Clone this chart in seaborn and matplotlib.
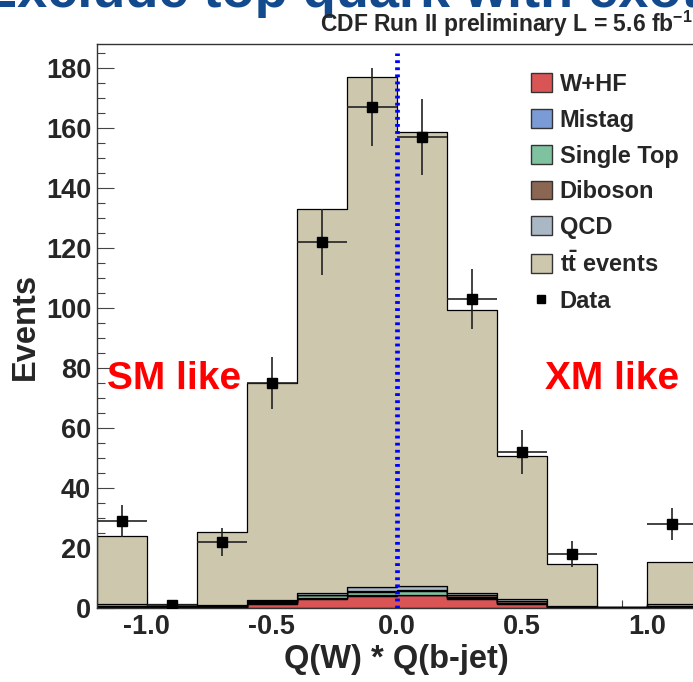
import numpy as np
import pandas as pd
import matplotlib
matplotlib.use("Agg")
import matplotlib.pyplot as plt
import seaborn as sns
from matplotlib.patches import Patch
from matplotlib.lines import Line2D
from matplotlib.ticker import MultipleLocator, FormatStrFormatter

# ---------------- data ----------------
bin_edges = [-1.2, -1.0, -0.8, -0.6, -0.4, -0.2, 0.0, 0.2, 0.4, 0.6, 0.8, 1.0, 1.2]
bin_centers = [-1.1, -0.9, -0.7, -0.5, -0.3, -0.1, 0.1, 0.3, 0.5, 0.7, 0.9, 1.1]

w_hf       = [0.4, 0.1, 0.2, 1.5, 2.9, 4.0, 4.2, 3.1, 1.4, 0.2, 0.05, 0.4]
mistag     = [0.1, 0.05, 0.1, 0.2, 0.3, 0.3, 0.3, 0.3, 0.2, 0.05, 0.02, 0.1]
single_top = [0.2, 0.1, 0.1, 0.3, 1.0, 1.2, 1.2, 0.4, 0.2, 0.1, 0.05, 0.2]
diboson    = [0.1, 0.1, 0.2, 0.3, 0.3, 0.3, 0.3, 0.4, 0.4, 0.1, 0.05, 0.1]
qcd        = [0.6, 0.3, 0.3, 0.4, 0.6, 1.3, 1.4, 0.9, 0.7, 0.2, 0.1, 0.5]
ttbar      = [22.6, 0.7, 24.5, 72.2, 127.8, 169.9, 151.4, 94.2, 47.6, 14.0, 0.1, 14.1]

data_counts = [29, 1, 22, 75, 122, 167, 157, 103, 52, 18, 0, 28]

process_names = ["W+HF", "Mistag", "Single Top", "Diboson", "QCD", "ttbar"]
process_labels = ["W+HF", "Mistag", "Single Top", "Diboson", "QCD", r"$\mathbf{t\bar{t}}$ events"]
process_colors = ["#d95555", "#7b9bd6", "#7fc29f", "#8b6652", "#a9b8c4", "#cdc8ad"]

# ---------------- style ----------------
sns.set_theme(style="white")
plt.rcParams["font.family"] = ["Liberation Sans", "DejaVu Sans"]
plt.rcParams["font.weight"] = "bold"
plt.rcParams["axes.unicode_minus"] = False
plt.rcParams["mathtext.fontset"] = "custom"
plt.rcParams["mathtext.rm"] = "Liberation Sans"
plt.rcParams["mathtext.bf"] = "Liberation Sans:bold"
plt.rcParams["mathtext.it"] = "Liberation Sans:italic"

series = [w_hf, mistag, single_top, diboson, qcd, ttbar]
rows = []
for name, vals in zip(process_names, series):
    for xc, v in zip(bin_centers, vals):
        rows.append({"x": xc, "w": v, "process": name})
df = pd.DataFrame(rows)

W, H = 693, 682
fig = plt.figure(figsize=(W / 100, H / 100), dpi=100)
ax = fig.add_axes([96.7 / W, (H - 608) / H, 600 / W, (608 - 44) / H])

# seaborn stacks first hue level on top -> reverse order
hue_order = process_names[::-1]
palette = dict(zip(process_names, process_colors))
sns.histplot(data=df, x="x", weights="w", hue="process", hue_order=hue_order,
             multiple="stack", bins=bin_edges, element="step", palette=palette,
             alpha=1, edgecolor="black", linewidth=0.9, legend=False, ax=ax)

# data points
dx = np.array(bin_centers)
dy = np.array(data_counts, dtype=float)
mask = dy > 0
ax.errorbar(dx[mask], dy[mask], yerr=np.sqrt(dy[mask]), xerr=0.1, fmt="s",
            color="black", ecolor="#222222", elinewidth=1.2, ms=7, capsize=0, zorder=5)

# blue dashed line at zero
ax.plot([0, 0], [0, 185], color="#0000ff", lw=3.4, ls=(0, (0.6, 0.9)), zorder=6)

ax.text(-1.16, 73, "SM like", color="#ff0000", fontsize=28, fontweight="bold", va="baseline")
ax.text(0.592, 73, "XM like", color="#ff0000", fontsize=28, fontweight="bold", va="baseline")

ax.set_xlim(-1.2, 1.2)
ax.set_ylim(0, 188)
ax.xaxis.set_major_locator(MultipleLocator(0.5))
ax.xaxis.set_minor_locator(MultipleLocator(0.1))
ax.xaxis.set_major_formatter(FormatStrFormatter("%.1f"))
ax.yaxis.set_major_locator(MultipleLocator(20))
ax.yaxis.set_minor_locator(MultipleLocator(5))
ax.tick_params(which="both", direction="in", top=False, right=False,
               bottom=True, left=True, color="#444444", width=0.8)
ax.tick_params(which="major", length=12.5, labelsize=19.5, pad=4)
ax.tick_params(which="minor", length=6)
for lab in ax.get_xticklabels() + ax.get_yticklabels():
    lab.set_fontweight("bold")
for s in ["left", "top", "bottom"]:
    ax.spines[s].set_color("#333333")
    ax.spines[s].set_linewidth(1.0)
ax.spines["right"].set_visible(False)

ax.set_xlabel("Q(W) * Q(b-jet)", fontsize=23.5, fontweight="bold", labelpad=3)
ax.set_ylabel("Events", fontsize=23.5, fontweight="bold", labelpad=3.5)

# legend
handles = [Patch(facecolor=c, edgecolor="#333333", lw=1) for c in process_colors]
handles.append(Line2D([], [], marker="s", ls="none", color="black", ms=5.5))
labels = process_labels + ["Data"]
fig.legend(handles, labels, loc="upper left", bbox_to_anchor=(531 / W, 1 - 73 / H),
           frameon=False, prop={"size": 17, "weight": "bold"}, handlelength=0.88,
           handleheight=0.85, handletextpad=0.33, labelspacing=0.54, borderpad=0,
           borderaxespad=0)

# titles
fig.text(-0.027, 1 - 7 / H, "Exclude top quark with exotic charge", fontsize=39,
         fontweight="bold", color="#134a8e", va="baseline", ha="left")
fig.text(0.999, 1 - 32 / H, r"CDF Run II preliminary L = 5.6 fb$^{\mathbf{-1}}$",
         fontsize=16.5, fontweight="bold", ha="right", va="baseline")

fig.savefig("out.png", dpi=100)
